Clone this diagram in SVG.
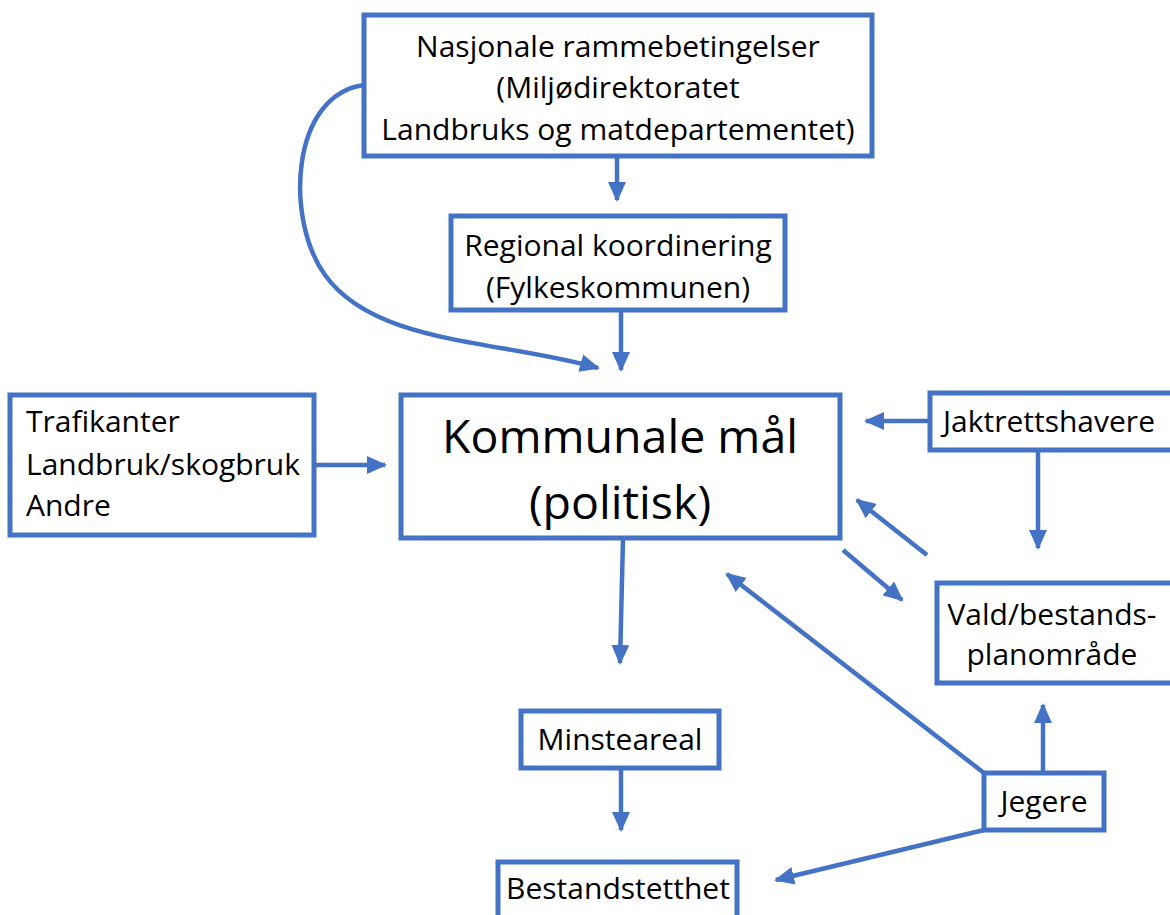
<svg xmlns="http://www.w3.org/2000/svg" width="1170" height="915" viewBox="0 0 1170 915">
<style>
.box{fill:#fff;stroke:#4472C4;stroke-width:5}
.t{font-family:"Open Sans","Noto Sans",sans-serif;font-size:30px;fill:#000}
.c{text-anchor:middle}
.big{font-size:46.5px}
.ln{fill:none;stroke:#4472C4;stroke-width:4.5}
</style>
<defs>
<marker id="ah" markerUnits="userSpaceOnUse" markerWidth="20" markerHeight="18" refX="18" refY="9" orient="auto">
<path d="M0,0 L20,9 L0,18 Z" fill="#4472C4"/>
</marker>
</defs>
<rect width="1170" height="915" fill="#fff"/>
<g id="connectors">
<path class="ln" d="M617,156 L617,200" marker-end="url(#ah)"/>
<path class="ln" d="M621,310 L621,370" marker-end="url(#ah)"/>
<path class="ln" d="M364,85 C290,95 285,220 325,275 C375,345 500,340 598,368" marker-end="url(#ah)"/>
<path class="ln" d="M314,465 L385,465" marker-end="url(#ah)"/>
<path class="ln" d="M930,421 L866,421" marker-end="url(#ah)"/>
<path class="ln" d="M1038,450 L1038,548" marker-end="url(#ah)"/>
<path class="ln" d="M927,555 L857,500" marker-end="url(#ah)"/>
<path class="ln" d="M843,550 L902,600" marker-end="url(#ah)"/>
<path class="ln" d="M623,538 L620,663" marker-end="url(#ah)"/>
<path class="ln" d="M621,768 L621,830" marker-end="url(#ah)"/>
<path class="ln" d="M1043,773 L1043,705" marker-end="url(#ah)"/>
<path class="ln" d="M984,773 L727,574" marker-end="url(#ah)"/>
<path class="ln" d="M984,830 L776,880" marker-end="url(#ah)"/>
</g>
<g id="nasjonale">
<rect class="box" x="364" y="15" width="508" height="141"/>
<text class="t c" x="618" y="57">Nasjonale rammebetingelser</text>
<text class="t c" x="618" y="98">(Miljødirektoratet</text>
<text class="t c" x="618" y="140">Landbruks og matdepartementet)</text>
</g>
<g id="regional">
<rect class="box" x="451" y="216" width="334" height="94"/>
<text class="t c" x="618" y="256">Regional koordinering</text>
<text class="t c" x="618" y="298">(Fylkeskommunen)</text>
</g>
<g id="kommunale">
<rect class="box" x="401" y="395" width="439" height="143"/>
<text class="t c big" x="620" y="453">Kommunale mål</text>
<text class="t c big" x="620" y="519">(politisk)</text>
</g>
<g id="trafikanter">
<rect class="box" x="10" y="395" width="304" height="140"/>
<text class="t" x="26" y="432">Trafikanter</text>
<text class="t" x="26" y="475">Landbruk/skogbruk</text>
<text class="t" x="26" y="516">Andre</text>
</g>
<g id="jaktrettshavere">
<rect class="box" x="930" y="393" width="250" height="57"/>
<text class="t" x="943" y="432">Jaktrettshavere</text>
</g>
<g id="vald">
<rect class="box" x="937" y="583" width="243" height="100"/>
<text class="t c" x="1052" y="625">Vald/bestands-</text>
<text class="t c" x="1052" y="665">planområde</text>
</g>
<g id="minsteareal">
<rect class="box" x="521" y="711" width="198" height="57"/>
<text class="t c" x="620" y="750">Minsteareal</text>
</g>
<g id="bestandstetthet">
<rect class="box" x="498" y="862" width="239" height="60"/>
<text class="t c" x="618" y="899">Bestandstetthet</text>
</g>
<g id="jegere">
<rect class="box" x="984" y="773" width="120" height="57"/>
<text class="t c" x="1044" y="812">Jegere</text>
</g>
</svg>
